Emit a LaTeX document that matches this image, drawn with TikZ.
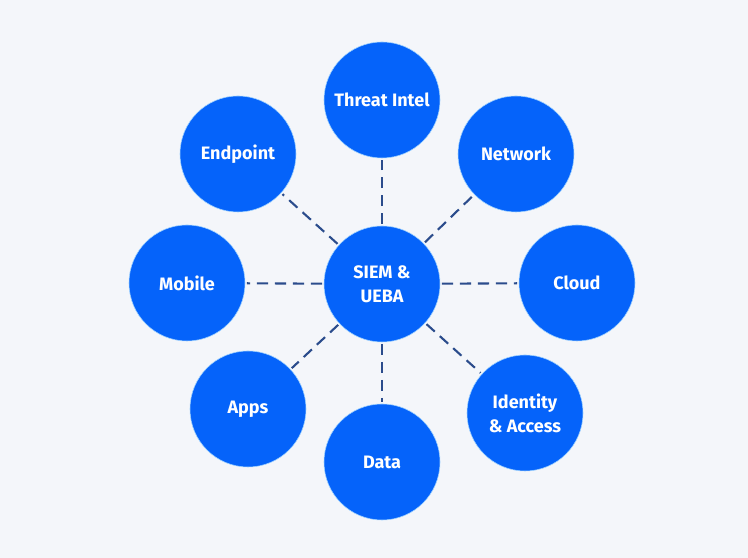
\documentclass[tikz,border=0pt]{standalone}
\usepackage{fontspec}
\setsansfont{Fira Sans}
\usetikzlibrary{positioning}
\definecolor{bg}{HTML}{F4F6FA}
\definecolor{hubblue}{HTML}{0563FA}
\definecolor{rim}{HTML}{9FD3FF}
\definecolor{navy}{HTML}{2B4C8C}
\tikzset{
  hub/.style={circle,fill=hubblue,draw=rim,line width=0.4pt,minimum size=2.9cm,inner sep=0pt,align=center,font=\sffamily\bfseries\fontsize{12.8}{17}\selectfont,text=white},
  link/.style={draw=navy,line width=1.5pt,dash pattern=on 0.28cm off 0.17cm,shorten <=0.04cm,shorten >=0.04cm}
}
\begin{document}
\begin{tikzpicture}[x=1cm,y=1cm]
\path[use as bounding box,fill=bg] (0,0) rectangle (18.7,13.95);
\node[hub] (siem) at (9.55,6.85) {SIEM \&\\UEBA};
\node[hub] (threat) at (9.55,11.45) {Threat Intel};
\node[hub] (endpoint) at (5.95,10.1) {Endpoint};
\node[hub] (network) at (12.9,10.1) {Network};
\node[hub] (mobile) at (4.675,6.875) {Mobile};
\node[hub] (cloud) at (14.425,6.875) {Cloud};
\node[hub] (apps) at (6.2,3.725) {Apps};
\node[hub] (data) at (9.55,2.4) {Data};
\node[hub] (identity) at (13.125,3.625) {Identity\\\& Access};
\foreach \n in {threat,endpoint,network,mobile,cloud,apps,data,identity}
  \draw[link] (siem) -- (\n);
\end{tikzpicture}
\end{document}
